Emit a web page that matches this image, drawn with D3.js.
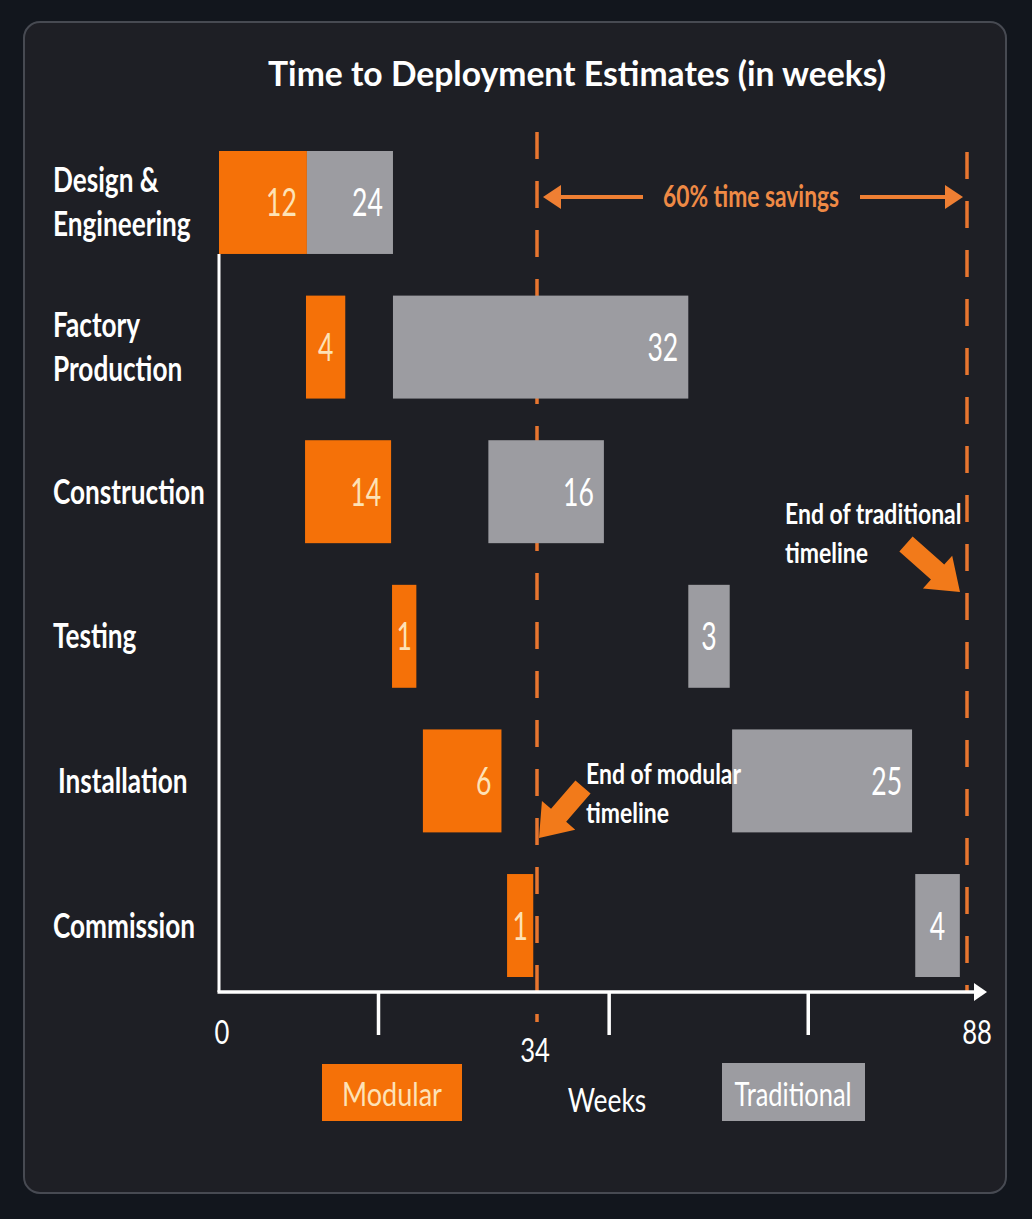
<!DOCTYPE html>
<html>
<head>
<meta charset="utf-8">
<script src="https://cdn.jsdelivr.net/npm/d3@7"></script>
<style>
  body { margin: 0; background: #12161d; }
</style>
</head>
<body>
<div id="chart"></div>
<script>
// Data (weeks)
const categories = ["Design &\nEngineering", "Factory\nProduction", "Construction", "Testing", "Installation", "Commission"];
const modularStart = [0, 9.3, 9.2, 18.5, 21.8, 30.8];
const modularEnd = [9.4, 13.5, 18.4, 21.1, 30.2, 33.6];
const modularLabels = ["12", "4", "14", "1", "6", "1"];
const traditionalStart = [9.4, 18.6, 28.8, 53.0, 58.5, 81.5];
const traditionalEnd = [18.6, 53.0, 42.4, 58.2, 81.1, 87.1];
const traditionalLabels = ["24", "32", "16", "3", "25", "4"];
const xTicks = [17, 43, 68];
const xLabels = [0, 34, 88];
const modularFinish = 34;
const traditionalFinish = 88;

const width = 1032;
const height = 1219;
const FONT = "Lato, 'Open Sans', sans-serif";
const ORANGE = "#f57108";
const LINE_ORANGE = "#e8762f";
const GRAY = "#9c9ca1";

const svg = d3.select("#chart")
    .append("svg")
    .attr("width", width)
    .attr("height", height)
    .style("font-family", FONT);

// text squeezed horizontally to get the narrow look of the original
function label(x, y, str, o) {
    return svg.append("text")
        .attr("transform", `translate(${x},${y}) scale(${o.k},1)`)
        .attr("text-anchor", o.anchor || "start")
        .attr("fill", o.fill || "#ffffff")
        .attr("font-weight", o.weight || "normal")
        .attr("font-size", o.size)
        .text(str);
}

svg.append("rect")
    .attr("width", width).attr("height", height)
    .attr("fill", "#12161d");

// panel
svg.append("rect")
    .attr("x", 24).attr("y", 22)
    .attr("width", 982).attr("height", 1171)
    .attr("rx", 16)
    .attr("fill", "#1e1f25")
    .attr("stroke", "#474a52")
    .attr("stroke-width", 2);

// title
label(577, 86, "Time to Deployment Estimates (in weeks)", { size: 34, k: 0.99, weight: "bold", anchor: "middle" });

// scales (the picture's axis is stretched differently either side of 34)
const x = d3.scaleLinear()
    .domain([0, 34, 88])
    .range([219, 537, 967]);

const y = d3.scaleBand()
    .domain(categories)
    .range([151, 977])
    .paddingInner(0.288)
    .paddingOuter(0);

// category labels
categories.forEach(c => {
    const lines = c.split("\n");
    const cy = y(c) + y.bandwidth() / 2;
    lines.forEach((l, i) => {
        label(c === "Installation" ? 58 : 53, cy + 12 + (i - (lines.length - 1) / 2) * 44, l,
            { size: 34, k: 0.77, weight: "bold" });
    });
});

// dashed end lines
svg.append("line")
    .attr("x1", x(modularFinish)).attr("x2", x(modularFinish))
    .attr("y1", 132).attr("y2", 1022)
    .attr("stroke", LINE_ORANGE).attr("stroke-width", 3.5)
    .attr("stroke-dasharray", "27,22");
svg.append("line")
    .attr("x1", x(traditionalFinish)).attr("x2", x(traditionalFinish))
    .attr("y1", 152).attr("y2", 992)
    .attr("stroke", LINE_ORANGE).attr("stroke-width", 3.5)
    .attr("stroke-dasharray", "27,22");

// bars
const rows = categories.map((c, i) => ({
    cat: c,
    ms: modularStart[i], me: modularEnd[i], ml: modularLabels[i],
    ts: traditionalStart[i], te: traditionalEnd[i], tl: traditionalLabels[i]
}));

function drawBars(key, fill, textFill) {
    const g = svg.append("g");
    const w = d => x(d[key + "e"]) - x(d[key + "s"]);
    g.selectAll("rect")
        .data(rows)
        .join("rect")
        .attr("x", d => x(d[key + "s"]))
        .attr("y", d => y(d.cat))
        .attr("width", w)
        .attr("height", y.bandwidth())
        .attr("fill", fill);
    g.selectAll("text")
        .data(rows)
        .join("text")
        .attr("transform", d => {
            const tx = w(d) < 50 ? x(d[key + "s"]) + w(d) / 2 : x(d[key + "e"]) - 10;
            return `translate(${tx},${y(d.cat) + y.bandwidth() / 2 + 14}) scale(0.7,1)`;
        })
        .attr("text-anchor", d => w(d) < 50 ? "middle" : "end")
        .attr("fill", textFill)
        .attr("font-size", 38)
        .text(d => d[key + "l"]);
}
drawBars("m", ORANGE, "#fde2b6");
drawBars("t", GRAY, "#ffffff");

// axes
const axisY = 992;
svg.append("line")
    .attr("x1", x(0)).attr("x2", x(0))
    .attr("y1", 254).attr("y2", axisY)
    .attr("stroke", "#ffffff").attr("stroke-width", 3);
svg.append("line")
    .attr("x1", x(0) - 1.5).attr("x2", 976)
    .attr("y1", axisY).attr("y2", axisY)
    .attr("stroke", "#ffffff").attr("stroke-width", 3.5);
svg.append("path")
    .attr("d", `M974,${axisY - 9} L987,${axisY} L974,${axisY + 9} Z`)
    .attr("fill", "#ffffff");

const xAxis = svg.append("g")
    .attr("transform", `translate(0, ${axisY})`)
    .call(d3.axisBottom(x).tickValues(xTicks).tickSizeInner(43).tickSizeOuter(0).tickFormat(""));
xAxis.select(".domain").remove();
xAxis.selectAll(".tick line").attr("stroke", "#ffffff").attr("stroke-width", 3.5);

xLabels.forEach(d => {
    label(x(d) + (d === 0 ? 3 : d === 88 ? 10 : -2), d === 34 ? 1062 : 1044, d,
        { size: 32, k: 0.8, anchor: "middle" });
});

// savings arrow
const sy = 197;
label(751, sy + 10, "60% time savings", { size: 30, k: 0.76, weight: "bold", anchor: "middle", fill: "#ef8a45" });
svg.append("line")
    .attr("x1", x(modularFinish) + 15).attr("x2", 643)
    .attr("y1", sy).attr("y2", sy)
    .attr("stroke", "#ef7f33").attr("stroke-width", 4);
svg.append("line")
    .attr("x1", 860).attr("x2", x(traditionalFinish) - 18)
    .attr("y1", sy).attr("y2", sy)
    .attr("stroke", "#ef7f33").attr("stroke-width", 4);
svg.append("path")
    .attr("d", `M${x(modularFinish) + 6},${sy} l18,-12 l0,24 Z`)
    .attr("fill", "#ef7f33");
svg.append("path")
    .attr("d", `M${x(traditionalFinish) - 4},${sy} l-18,-12 l0,24 Z`)
    .attr("fill", "#ef7f33");

// block arrows for the annotations
function blockArrow(x1, y1, x2, y2, sw, hw, hl) {
    const dx = x2 - x1, dy = y2 - y1;
    const len = Math.hypot(dx, dy);
    const ux = dx / len, uy = dy / len;
    const nx = -uy, ny = ux;
    const bx = x2 - ux * hl, by = y2 - uy * hl;
    const pts = [
        [x1 + nx * sw, y1 + ny * sw],
        [bx + nx * sw, by + ny * sw],
        [bx + nx * hw, by + ny * hw],
        [x2, y2],
        [bx - nx * hw, by - ny * hw],
        [bx - nx * sw, by - ny * sw],
        [x1 - nx * sw, y1 - ny * sw]
    ];
    svg.append("path")
        .attr("d", d3.line()(pts) + "Z")
        .attr("fill", "#f27a1a");
}
blockArrow(583, 787, x(modularFinish) + 2, 838, 10, 22, 30);
blockArrow(906, 544, x(traditionalFinish) - 7, 592, 10, 22, 30);

function note(tx, ty, lines) {
    lines.forEach((l, i) => {
        label(tx, ty + i * 39, l, { size: 28, k: 0.82, weight: "bold" });
    });
}
note(785, 524, ["End of traditional", "timeline"]);
note(586, 784, ["End of modular", "timeline"]);

// legend
svg.append("rect")
    .attr("x", 322).attr("y", 1064).attr("width", 140).attr("height", 57)
    .attr("fill", ORANGE);
label(392, 1106, "Modular", { size: 33, k: 0.82, anchor: "middle", fill: "#fde2b6" });
label(607, 1112, "Weeks", { size: 33, k: 0.8, anchor: "middle" });
svg.append("rect")
    .attr("x", 722).attr("y", 1063).attr("width", 143).attr("height", 58)
    .attr("fill", GRAY);
label(793, 1106, "Traditional", { size: 33, k: 0.77, anchor: "middle" });
</script>
</body>
</html>
